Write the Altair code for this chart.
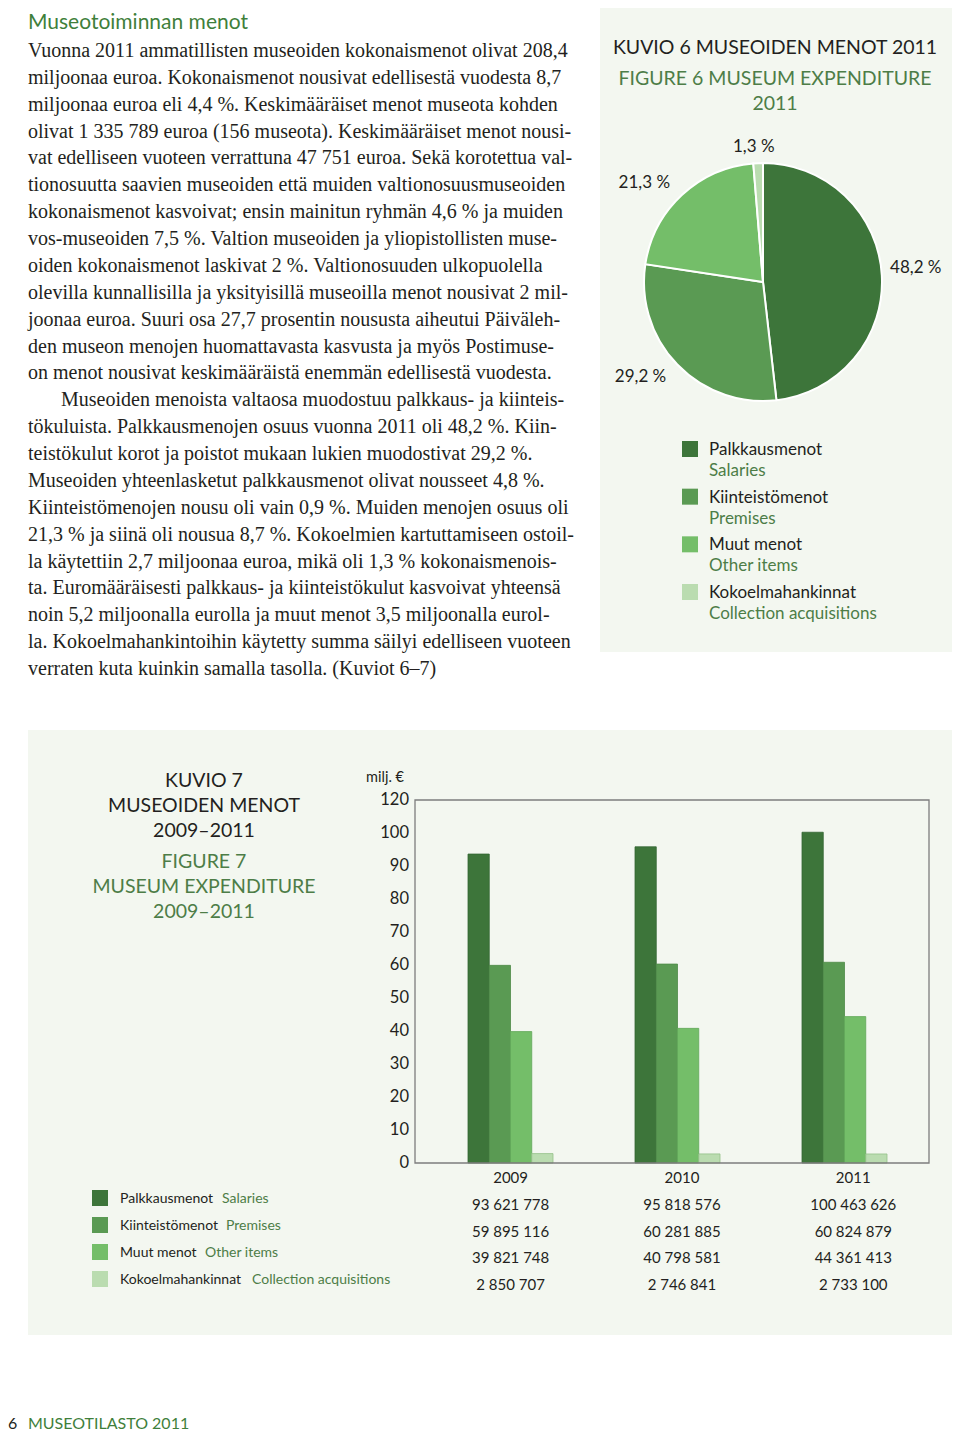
import altair as alt
import pandas as pd

# ---------------- data ----------------
categories_fi = ["Palkkausmenot", "Kiinteistömenot", "Muut menot", "Kokoelmahankinnat"]
categories_en = ["Salaries", "Premises", "Other items", "Collection acquisitions"]
pie_shares = [48.2, 29.2, 21.3, 1.3]
pie_labels = ["48,2 %", "29,2 %", "21,3 %", "1,3 %"]

years = ["2009", "2010", "2011"]
salaries = [93621778, 95818576, 100463626]
premises = [59895116, 60281885, 60824879]
other_items = [39821748, 40798581, 44361413]
collection = [2850707, 2746841, 2733100]
y_ticks = [0, 10, 20, 30, 40, 50, 60, 70, 80, 90, 100, 120]

paragraph = [
    "Vuonna 2011 ammatillisten museoiden kokonaismenot olivat 208,4",
    "miljoonaa euroa. Kokonaismenot nousivat edellisestä vuodesta 8,7",
    "miljoonaa euroa eli 4,4 %. Keskimääräiset menot museota kohden",
    "olivat 1 335 789 euroa (156 museota). Keskimääräiset menot nousi-",
    "vat edelliseen vuoteen verrattuna 47 751 euroa. Sekä korotettua val-",
    "tionosuutta saavien museoiden että muiden valtionosuusmuseoiden",
    "kokonaismenot kasvoivat; ensin mainitun ryhmän 4,6 % ja muiden",
    "vos-museoiden 7,5 %. Valtion museoiden ja yliopistollisten muse-",
    "oiden kokonaismenot laskivat 2 %. Valtionosuuden ulkopuolella",
    "olevilla kunnallisilla ja yksityisillä museoilla menot nousivat 2 mil-",
    "joonaa euroa. Suuri osa 27,7 prosentin noususta aiheutui Päiväleh-",
    "den museon menojen huomattavasta kasvusta ja myös Postimuse-",
    "on menot nousivat keskimääräistä enemmän edellisestä vuodesta.",
    "Museoiden menoista valtaosa muodostuu palkkaus- ja kiinteis-",
    "tökuluista. Palkkausmenojen osuus vuonna 2011 oli 48,2 %. Kiin-",
    "teistökulut korot ja poistot mukaan lukien muodostivat 29,2 %.",
    "Museoiden yhteenlasketut palkkausmenot olivat nousseet 4,8 %.",
    "Kiinteistömenojen nousu oli vain 0,9 %. Muiden menojen osuus oli",
    "21,3 % ja siinä oli nousua 8,7 %. Kokoelmien kartuttamiseen ostoil-",
    "la käytettiin 2,7 miljoonaa euroa, mikä oli 1,3 % kokonaismenois-",
    "ta. Euromääräisesti palkkaus- ja kiinteistökulut kasvoivat yhteensä",
    "noin 5,2 miljoonalla eurolla ja muut menot 3,5 miljoonalla eurol-",
    "la. Kokoelmahankintoihin käytetty summa säilyi edelliseen vuoteen",
    "verraten kuta kuinkin samalla tasolla. (Kuviot 6–7)",
]
indented_line = 13

# ---------------- style ----------------
OFF = 8
def P(v):
    return v - OFF

SANS = "Lato"
SERIF = "Liberation Serif"
INK = "#231f20"
GREEN_TXT = "#4d7d47"
GREEN_TITLE = "#3f7f3b"
PANEL = "#f3f7f0"
colors = ["#3d753a", "#5a9a53", "#74be69", "#badcb0"]
strokes = ["#346632", "#4e8a48", "#62a859", "#94c089"]

one = pd.DataFrame({"a": [0]})

def txt(s, x, y, size, color=INK, align="left", font=SANS, baseline="middle"):
    return alt.Chart(one).mark_text(
        align=align, baseline=baseline, font=font, fontSize=size, color=color
    ).encode(x=alt.value(P(x)), y=alt.value(P(y)), text=alt.value(s))

def panel(x0, x1, y0, y1):
    return alt.Chart(one).mark_rect(color=PANEL).encode(
        x=alt.value(max(P(x0), 0)), x2=alt.value(P(x1)),
        y=alt.value(max(P(y0), 0)), y2=alt.value(P(y1)))

layers = []

# panel backgrounds
layers.append(panel(600, 956, 0, 652))
layers.append(panel(28, 954, 730, 1335))

# heading + paragraph
layers.append(alt.Chart(one).mark_text(align="left", baseline="top", font=SANS,
                                       fontSize=21, color=GREEN_TITLE)
              .encode(x=alt.value(P(28)), y=alt.value(4), text=alt.value("Museotoiminnan menot")))

para_df = pd.DataFrame({"i": list(range(len(paragraph))), "line": paragraph})
para_y = alt.Y("i:Q", scale=alt.Scale(domain=[0, len(paragraph) - 1], range=[P(57), P(675)]), axis=None)
layers.append(alt.Chart(para_df).transform_filter(f"datum.i != {indented_line}")
              .mark_text(align="left", baseline="alphabetic", font=SERIF, fontSize=20, color=INK)
              .encode(x=alt.value(P(28)), y=para_y, text="line:N"))
layers.append(alt.Chart(para_df).transform_filter(f"datum.i == {indented_line}")
              .mark_text(align="left", baseline="alphabetic", font=SERIF, fontSize=20, color=INK)
              .encode(x=alt.value(P(61)), y=para_y, text="line:N"))

# ---------------- pie (Kuvio 6) ----------------
layers.append(txt("KUVIO 6 MUSEOIDEN MENOT 2011", 775, 48, 19.5, INK, "center"))
layers.append(txt("FIGURE 6 MUSEUM EXPENDITURE", 775, 79, 19.5, GREEN_TXT, "center"))
layers.append(txt("2011", 775, 104, 19.5, GREEN_TXT, "center"))

pie_df = pd.DataFrame({"idx": range(4), "cat": categories_fi, "share": pie_shares, "label": pie_labels})
color_scale = alt.Scale(domain=categories_fi, range=colors)
stroke_scale = alt.Scale(domain=categories_fi, range=strokes)
CX, CY = 763, 282
layers.append(alt.Chart(pie_df).mark_arc(outerRadius=119, stroke="white", strokeWidth=2)
              .encode(theta=alt.Theta("share:Q", stack=True),
                      color=alt.Color("cat:N", scale=color_scale, legend=None),
                      order=alt.Order("idx:Q"),
                      x=alt.value(P(CX)), y=alt.value(P(CY))))
# label nudges (layout only)
label_dx = [1, -13, -15, -3]
label_dy = [-5, -10, 12, 17]
for i in range(4):
    layers.append(alt.Chart(pie_df).mark_text(radius=152, fontSize=17, font=SANS, color=INK,
                                              dx=label_dx[i], dy=label_dy[i])
                  .encode(theta=alt.Theta("share:Q", stack=True),
                          order=alt.Order("idx:Q"),
                          text=alt.condition(f"datum.idx == {i}", "label:N", alt.value("")),
                          x=alt.value(P(CX)), y=alt.value(P(CY))))

leg_df = pd.DataFrame({"idx": range(4), "cat": categories_fi, "en": categories_en})
pie_leg_y = alt.Y("idx:Q", scale=alt.Scale(domain=[0, 3], range=[P(449), P(592)]), axis=None)
layers.append(alt.Chart(leg_df).mark_square(size=256, opacity=1, filled=True)
              .encode(x=alt.value(P(690)), y=pie_leg_y,
                      color=alt.Color("cat:N", scale=color_scale, legend=None)))
layers.append(alt.Chart(leg_df).mark_text(align="left", baseline="middle", font=SANS, fontSize=17,
                                          color=INK, dy=1)
              .encode(x=alt.value(P(709)), y=pie_leg_y, text="cat:N"))
layers.append(alt.Chart(leg_df).mark_text(align="left", baseline="middle", font=SANS, fontSize=17,
                                          color=GREEN_TXT, dy=22)
              .encode(x=alt.value(P(709)), y=pie_leg_y, text="en:N"))

# ---------------- bars (Kuvio 7) ----------------
layers.append(txt("KUVIO 7", 204, 781, 19.5, INK, "center"))
layers.append(txt("MUSEOIDEN MENOT", 204, 806, 19.5, INK, "center"))
layers.append(txt("2009–2011", 204, 831, 19.5, INK, "center"))
layers.append(txt("FIGURE 7", 204, 862, 19.5, GREEN_TXT, "center"))
layers.append(txt("MUSEUM EXPENDITURE", 204, 887, 19.5, GREEN_TXT, "center"))
layers.append(txt("2009–2011", 204, 912, 19.5, GREEN_TXT, "center"))
layers.append(txt("milj. €", 385, 778, 14.5, INK, "center"))

rows = []
for yi, yr in enumerate(years):
    for ci, series in enumerate([salaries, premises, other_items, collection]):
        rows.append({"year": yr, "cat": categories_fi[ci], "idx": ci, "v": series[yi] / 1e6})
bar_df = pd.DataFrame(rows)

x_scale = alt.Scale(domain=years, range=[P(415), P(929)], paddingInner=0.491,
                    paddingOuter=0.2844, align=0.558)
y_scale = alt.Scale(type="linear", domain=[0, 100, 120], range=[P(1163), P(833), P(800)],
                    zero=False, nice=False)

layers.append(alt.Chart(bar_df).mark_bar(strokeWidth=0.8)
              .encode(x=alt.X("year:N", scale=x_scale, axis=None),
                      xOffset=alt.XOffset("cat:N", scale=alt.Scale(domain=categories_fi,
                                                                   paddingInner=0, paddingOuter=0)),
                      y=alt.Y("v:Q", scale=y_scale, axis=None),
                      color=alt.Color("cat:N", scale=color_scale, legend=None),
                      stroke=alt.Stroke("cat:N", scale=stroke_scale, legend=None)))

# frame of plot area
layers.append(alt.Chart(one).mark_rect(fillOpacity=0, stroke="#7d7d7d", strokeWidth=1.3)
              .encode(x=alt.value(P(415)), x2=alt.value(P(929)),
                      y=alt.value(P(800)), y2=alt.value(P(1163))))

tick_df = pd.DataFrame({"t": y_ticks})
layers.append(alt.Chart(tick_df).mark_text(align="right", baseline="middle", font=SANS,
                                           fontSize=16.5, color=INK)
              .encode(x=alt.value(P(409)), y=alt.Y("t:Q", scale=y_scale, axis=None), text="t:Q"))

def fmt(v):
    return f"{v:,}".replace(",", " ")

tbl = []
for yi, yr in enumerate(years):
    tbl.append({"year": yr, "r": 0, "s": yr})
    for ci, series in enumerate([salaries, premises, other_items, collection]):
        tbl.append({"year": yr, "r": ci + 1, "s": fmt(series[yi])})
tbl_df = pd.DataFrame(tbl)
layers.append(alt.Chart(tbl_df).mark_text(align="center", baseline="middle", font=SANS,
                                          fontSize=15, color=INK)
              .encode(x=alt.X("year:N", scale=x_scale, axis=None),
                      y=alt.Y("r:Q", scale=alt.Scale(domain=[0, 4], range=[P(1178), P(1285)]), axis=None),
                      text="s:N"))

bar_leg_y = alt.Y("idx:Q", scale=alt.Scale(domain=[0, 3], range=[P(1198), P(1279)]), axis=None)
layers.append(alt.Chart(leg_df).mark_square(size=256, opacity=1, filled=True)
              .encode(x=alt.value(P(100)), y=bar_leg_y,
                      color=alt.Color("cat:N", scale=color_scale, legend=None)))
layers.append(alt.Chart(leg_df).mark_text(align="left", baseline="middle", font=SANS, fontSize=14,
                                          color=INK, dy=1)
              .encode(x=alt.value(P(120)), y=bar_leg_y, text="cat:N"))
en_x = [222, 226, 205, 252]
for i in range(4):
    layers.append(alt.Chart(leg_df).transform_filter(f"datum.idx == {i}")
                  .mark_text(align="left", baseline="middle", font=SANS, fontSize=14,
                             color=GREEN_TXT, dy=1)
                  .encode(x=alt.value(P(en_x[i])), y=bar_leg_y, text="en:N"))

# footer
layers.append(alt.Chart(one).mark_text(align="left", baseline="alphabetic", font=SANS,
                                       fontSize=16, color=INK)
              .encode(x=alt.value(0), y=alt.value(P(1429)), text=alt.value("6")))
layers.append(txt("MUSEOTILASTO 2011", 28, 1429, 16, GREEN_TITLE, "left", baseline="alphabetic"))

chart = (alt.layer(*layers)
         .resolve_scale(x="independent", y="independent")
         .properties(width=944, height=1424, padding=0,
                     autosize=alt.AutoSizeParams(type="none"),
                     background="white")
         .configure_view(stroke=None))

chart.save("out.html", embed_options={"renderer": "svg", "actions": False})
